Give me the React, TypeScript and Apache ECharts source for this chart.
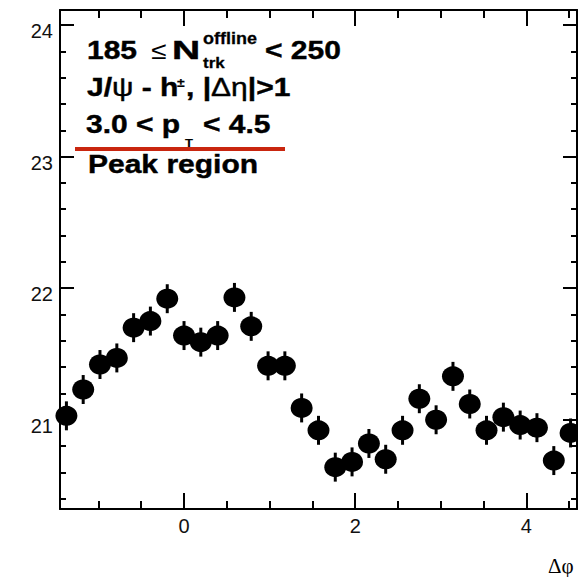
import React, { useEffect, useRef } from "react";
import * as echarts from "echarts";

// Δφ bin centres (rad)
const dphi = [
  -1.374, -1.178, -0.982, -0.785, -0.589, -0.393, -0.196, 0.0, 0.196, 0.393,
  0.589, 0.785, 0.982, 1.178, 1.374, 1.571, 1.767, 1.963, 2.16, 2.356, 2.553,
  2.749, 2.945, 3.142, 3.338, 3.534, 3.731, 3.927, 4.123, 4.32, 4.516,
];
// per-trigger yield
const yields = [
  21.03, 21.23, 21.42, 21.47, 21.7, 21.75, 21.92, 21.64, 21.59, 21.64, 21.93,
  21.71, 21.41, 21.41, 21.09, 20.92, 20.64, 20.68, 20.82, 20.7, 20.92, 21.16,
  21.0, 21.33, 21.12, 20.92, 21.02, 20.96, 20.94, 20.69, 20.9,
];
// statistical errors
const errors = [
  0.11, 0.11, 0.11, 0.11, 0.11, 0.11, 0.11, 0.11, 0.11, 0.11, 0.11, 0.11, 0.11,
  0.11, 0.11, 0.11, 0.11, 0.11, 0.11, 0.11, 0.11, 0.11, 0.11, 0.11, 0.11, 0.11,
  0.11, 0.11, 0.11, 0.11, 0.11,
];

const xMajorTicks = [0, 2, 4];
const xMinorTicks = [-1, -0.5, 0.5, 1, 1.5, 2.5, 3, 3.5, 4.5];
const yMajorTicks = [21, 22, 23, 24];
const yMinorTicks = [
  20.4, 20.6, 20.8, 21.2, 21.4, 21.6, 21.8, 22.2, 22.4, 22.6, 22.8, 23.2, 23.4,
  23.6, 23.8,
];

const X_MIN = -1.449;
const X_MAX = 4.591;
const Y_MIN = 20.322;
const Y_MAX = 24.114;

const SANS = "Liberation Sans, Arial, Helvetica, sans-serif";

function xAxisDef(position: "bottom" | "top", major: boolean, showLabel: boolean) {
  return {
    type: "value",
    gridIndex: 0,
    position,
    min: X_MIN,
    max: X_MAX,
    axisLine: {
      show: major,
      onZero: false,
      lineStyle: { color: "#000", width: 2 },
    },
    axisTick: {
      show: true,
      inside: true,
      length: major ? 16 : 8,
      lineStyle: { color: "#000", width: 2 },
      customValues: major ? xMajorTicks : xMinorTicks,
    },
    axisLabel: showLabel
      ? {
          show: true,
          customValues: xMajorTicks,
          fontSize: 20,
          fontFamily: SANS,
          color: "#111",
          margin: 7,
        }
      : { show: false },
    splitLine: { show: false },
  };
}

function yAxisDef(position: "left" | "right", major: boolean, showLabel: boolean) {
  return {
    type: "value",
    gridIndex: 0,
    position,
    min: Y_MIN,
    max: Y_MAX,
    axisLine: {
      show: major,
      onZero: false,
      lineStyle: { color: "#000", width: 2 },
    },
    axisTick: {
      show: true,
      inside: true,
      length: major ? 14 : 6,
      lineStyle: { color: "#000", width: 2 },
      customValues: major ? yMajorTicks : yMinorTicks,
    },
    axisLabel: showLabel
      ? {
          show: true,
          customValues: yMajorTicks,
          fontSize: 20,
          fontFamily: SANS,
          color: "#111",
          margin: 7,
          verticalAlign: "top",
          lineHeight: 12,
        }
      : { show: false },
    splitLine: { show: false },
  };
}

function txt(
  text: string,
  x: number,
  y: number,
  fontSize: number,
  opts: { weight?: string; scaleX?: number; scaleY?: number; family?: string; rich?: any; stroke?: number } = {}
) {
  const weight = opts.weight ?? "bold";
  const sw = opts.stroke ?? (weight === "bold" ? 0.5 : 0);
  return {
    type: "text",
    x,
    y,
    scaleX: opts.scaleX ?? 1,
    scaleY: opts.scaleY ?? 0.87,
    silent: true,
    style: {
      text,
      fill: "#000",
      stroke: sw > 0 ? "#000" : undefined,
      lineWidth: sw,
      fontSize,
      fontWeight: weight,
      fontFamily: opts.family ?? SANS,
      align: "left",
      verticalAlign: "middle",
      textAlign: "left",
      textVerticalAlign: "middle",
      rich: opts.rich,
    },
  };
}

export default function App() {
  const ref = useRef<HTMLDivElement>(null);

  useEffect(() => {
    if (!ref.current) return;
    const chart = echarts.init(ref.current, undefined, { renderer: "svg" });

    const richMain = {
      b: { fontSize: 30, fontWeight: "bold", fontFamily: SANS, fill: "#000", color: "#000" },
      g: { fontSize: 30, fontWeight: "normal", fontFamily: SANS, fill: "#000", color: "#000" },
    };

    const option: any = {
      animation: false,
      backgroundColor: "#fff",
      grid: { left: 60, top: 10, right: 1, bottom: 68, containLabel: false },
      xAxis: [
        xAxisDef("bottom", true, true),
        xAxisDef("bottom", false, false),
        xAxisDef("top", true, false),
        xAxisDef("top", false, false),
      ],
      yAxis: [
        yAxisDef("left", true, true),
        yAxisDef("left", false, false),
        yAxisDef("right", true, false),
        yAxisDef("right", false, false),
      ],
      series: [
        {
          type: "custom",
          xAxisIndex: 0,
          yAxisIndex: 0,
          silent: true,
          z: 2,
          data: dphi.map((x, i) => [x, yields[i] - errors[i], yields[i] + errors[i]]),
          encode: { x: 0, y: [1, 2] },
          renderItem: (params: any, api: any) => {
            const lo = api.coord([api.value(0), api.value(1)]);
            const hi = api.coord([api.value(0), api.value(2)]);
            return {
              type: "rect",
              shape: { x: lo[0] - 1.5, y: hi[1], width: 3, height: lo[1] - hi[1] },
              style: { fill: "#000" },
            };
          },
        },
        {
          type: "scatter",
          xAxisIndex: 0,
          yAxisIndex: 0,
          z: 3,
          symbol: "circle",
          symbolSize: [22, 20],
          itemStyle: { color: "#000", opacity: 1 },
          data: dphi.map((x, i) => [x, yields[i]]),
        },
      ],
      graphic: [
        // line 1
        txt("185", 87, 50, 30),
        txt("≤", 151, 51, 28, { weight: "normal" }),
        txt("N", 172, 50, 30, { scaleX: 1.3 }),
        txt("offline", 203, 39, 18, { stroke: 0.3 }),
        txt("trk", 203, 62.5, 17, { stroke: 0.3 }),
        txt("< 250", 265, 50, 30),
        // line 2
        txt("{b|J/}{g|ψ}{b| - h}", 87, 87.5, 30, { rich: richMain }),
        txt("±", 177, 83, 14, { stroke: 0.2 }),
        txt("{b|, |}{g|Δη}{b||>1}", 186, 87.5, 30, { rich: richMain }),
        // line 3
        txt("3.0 < p", 86, 124, 30),
        txt("T", 185, 143.5, 13, { stroke: 0.2 }),
        txt("< 4.5", 203, 124, 30),
        // red underline
        {
          type: "line",
          silent: true,
          shape: { x1: 75, y1: 149, x2: 285, y2: 149 },
          style: { stroke: "#c9260f", lineWidth: 4 },
        },
        // line 4
        txt("Peak region", 88, 164, 30),
        // axis title
        txt("Δφ", 548, 566, 21, { weight: "normal", scaleY: 1, family: "Liberation Serif, DejaVu Serif, serif" }),
      ],
    };

    chart.setOption(option);
    return () => chart.dispose();
  }, []);

  return (
    <div
      ref={ref}
      style={{ position: "absolute", left: 0, top: 0, width: 578, height: 577, background: "#fff" }}
    />
  );
}
